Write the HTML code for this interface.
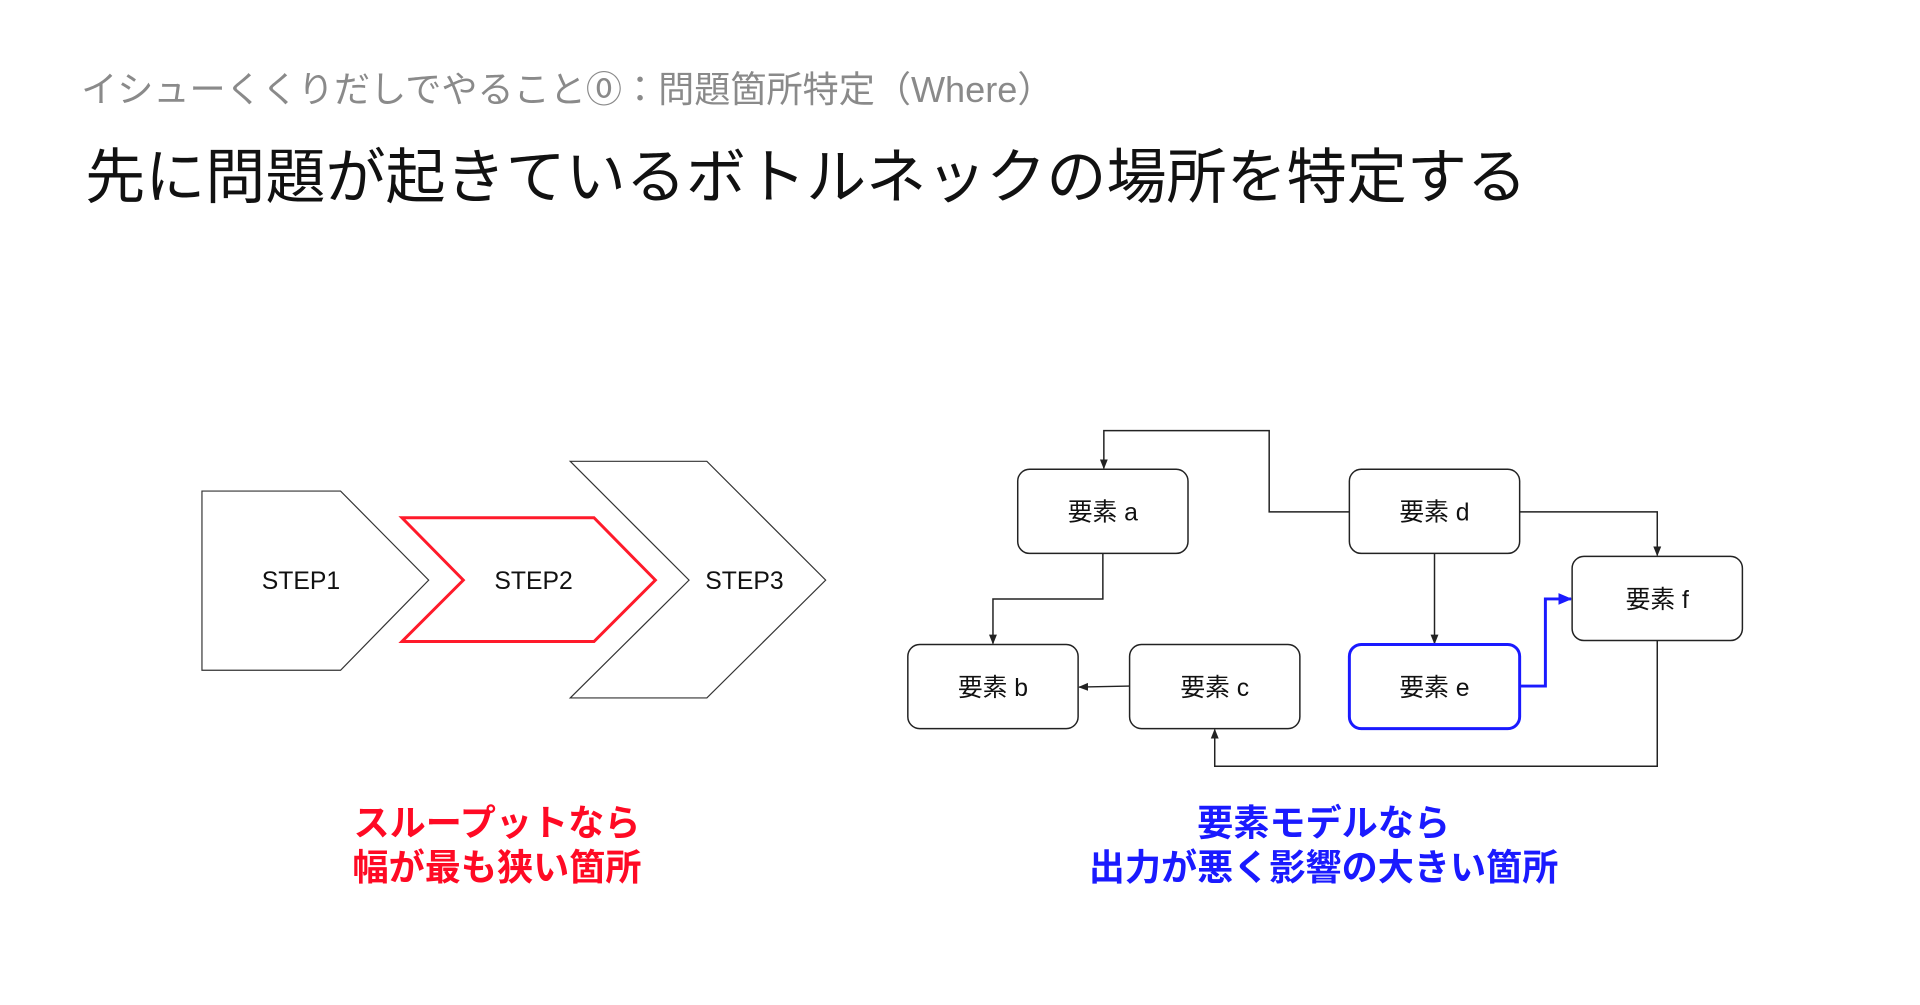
<!DOCTYPE html>
<html><head><meta charset="utf-8"><style>
html,body{margin:0;padding:0;background:#fff;}
svg{display:block;}
text{font-family:"Liberation Sans","Noto Sans CJK JP",sans-serif;}
</style></head><body>
<svg width="1920" height="1005" viewBox="0 0 1920 1005" xmlns="http://www.w3.org/2000/svg">
<defs>
<marker id="ak" markerWidth="10" markerHeight="10" refX="9" refY="5" orient="auto" markerUnits="userSpaceOnUse"><path d="M0,1 L10,5 L0,9 Z" fill="#222"/></marker>
<marker id="ab" markerWidth="14" markerHeight="14" refX="13" refY="7" orient="auto" markerUnits="userSpaceOnUse"><path d="M0,1 L14,7 L0,13 Z" fill="#1a1aff"/></marker>
</defs>
<g transform="scale(0.99)">
<text x="82" y="103" font-size="36.5" fill="#8a8a8a">イシューくくりだしでやること⓪：問題箇所特定（Where）</text>
<text x="86" y="200" font-size="60.7" fill="#111">先に問題が起きているボトルネックの場所を特定する</text>

<polygon points="204,496 344,496 433,586 344,677 204,677" fill="#fff" stroke="#333" stroke-width="1.2"/>
<polygon points="576,466 714,466 834,586 714,705 576,705 696,586" fill="#fff" stroke="#333" stroke-width="1.2"/>
<polygon points="406,523 600,523 662,586 600,648 406,648 468,586" fill="#fff" stroke="#ff1a2a" stroke-width="3"/>
<text x="304" y="595" font-size="25" text-anchor="middle" fill="#111">STEP1</text>
<text x="539" y="595" font-size="25" text-anchor="middle" fill="#111">STEP2</text>
<text x="752" y="595" font-size="25" text-anchor="middle" fill="#111">STEP3</text>

<g fill="none" stroke="#222" stroke-width="1.5">
<polyline points="1363,517 1282,517 1282,435 1115,435 1115,473" marker-end="url(#ak)"/>
<polyline points="1114,559 1114,605 1003,605 1003,650" marker-end="url(#ak)"/>
<polyline points="1141,693 1090,694" marker-end="url(#ak)"/>
<polyline points="1449,559 1449,650" marker-end="url(#ak)"/>
<polyline points="1535,517 1674,517 1674,561" marker-end="url(#ak)"/>
<polyline points="1674,647 1674,774 1227,774 1227,737" marker-end="url(#ak)"/>
</g>
<polyline points="1535,693 1561,693 1561,605 1587,605" fill="none" stroke="#1a1aff" stroke-width="3" marker-end="url(#ab)"/>

<g fill="#fff" stroke="#222" stroke-width="1.5">
<rect x="1028" y="474" width="172" height="85" rx="12"/>
<rect x="917" y="651" width="172" height="85" rx="12"/>
<rect x="1141" y="651" width="172" height="85" rx="12"/>
<rect x="1363" y="474" width="172" height="85" rx="12"/>
<rect x="1588" y="562" width="172" height="85" rx="12"/>
</g>
<rect x="1363" y="651" width="172" height="85" rx="12" fill="#fff" stroke="#1a1aff" stroke-width="3"/>
<g font-size="25" text-anchor="middle" fill="#111">
<text x="1114" y="526">要素 a</text>
<text x="1003" y="703">要素 b</text>
<text x="1227" y="703">要素 c</text>
<text x="1449" y="526">要素 d</text>
<text x="1449" y="703">要素 e</text>
<text x="1674" y="614">要素 f</text>
</g>

<g font-size="36.5" font-weight="bold" text-anchor="middle">
<text x="502" y="844" fill="#ff0a24">スループットなら</text>
<text x="502" y="889" fill="#ff0a24">幅が最も狭い箇所</text>
<text x="1337" y="844" fill="#1a1aff">要素モデルなら</text>
<text x="1337" y="889" fill="#1a1aff">出力が悪く影響の大きい箇所</text>
</g>
</g>
</svg>
</body></html>
